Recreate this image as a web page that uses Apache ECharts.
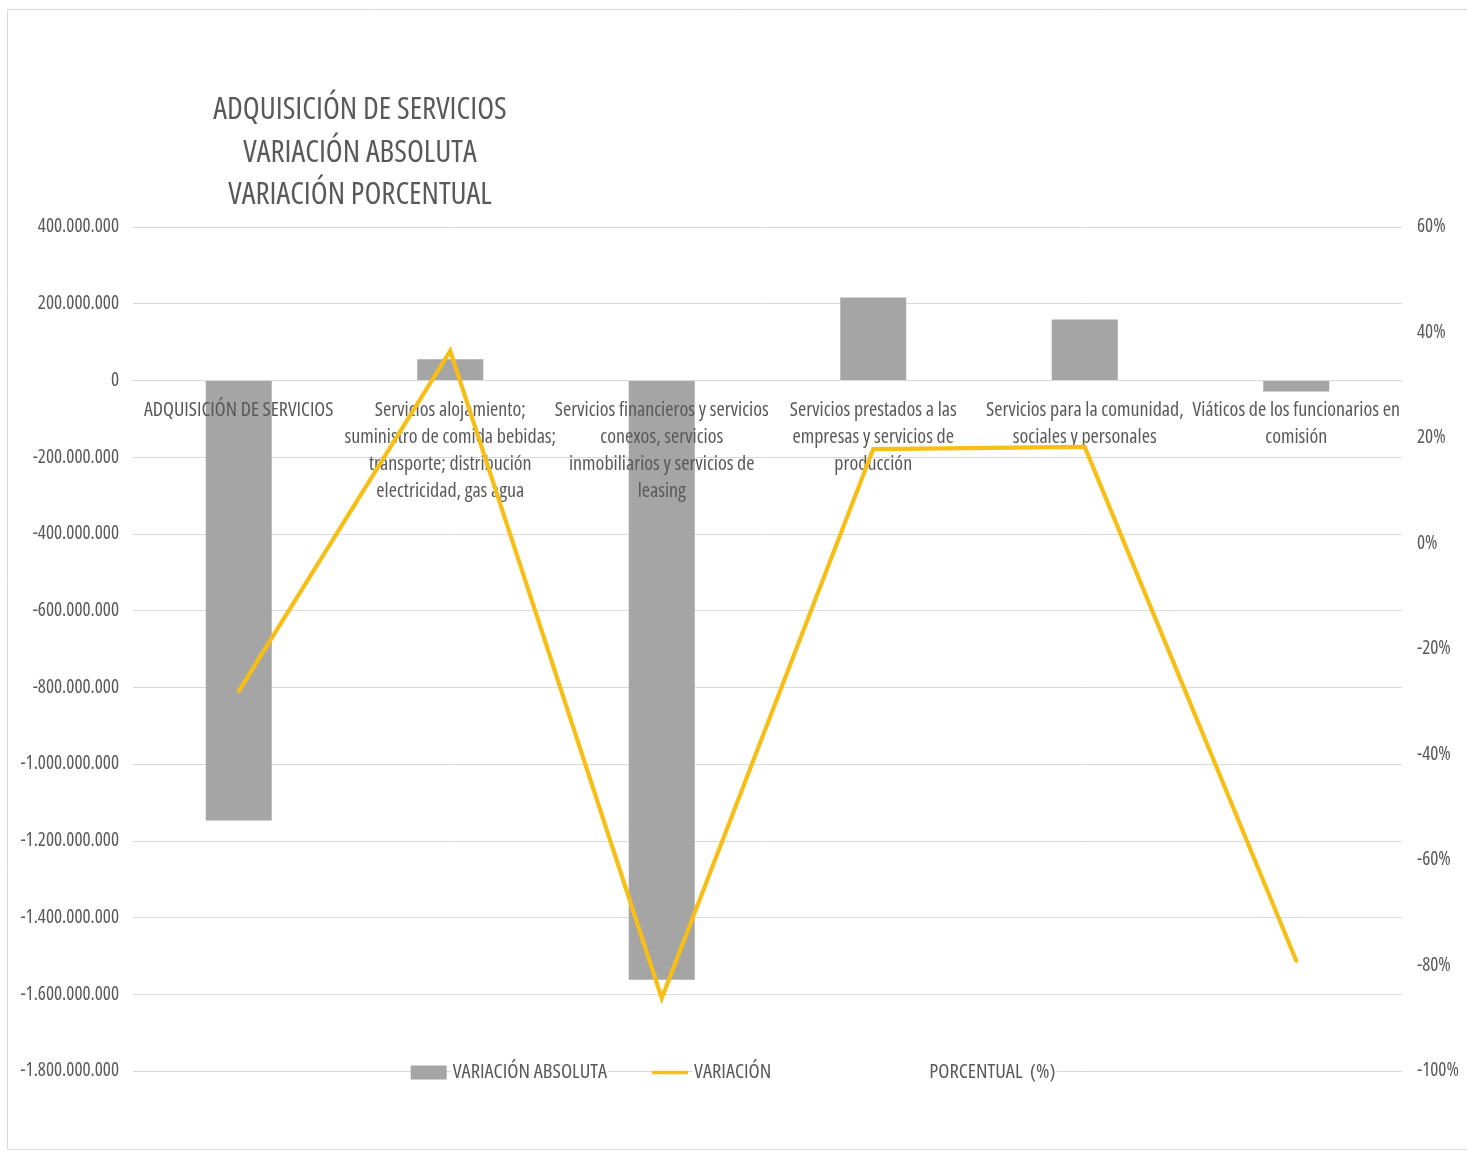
<!DOCTYPE html>
<html>
<head>
<meta charset="utf-8">
<script src="https://cdn.jsdelivr.net/npm/echarts@6/dist/echarts.min.js"></script>
<style>
html,body{margin:0;padding:0;background:#fff;}
#c{width:1467px;height:1153px;}
</style>
</head>
<body>
<div id="c"></div>
<script>
var categories = [
  "ADQUISICIÓN DE SERVICIOS",
  "Servicios alojamiento;\nsuministro de comida bebidas;\ntransporte; distribución\nelectricidad, gas agua",
  "Servicios financieros y servicios\nconexos, servicios\ninmobiliarios y servicios de\nleasing",
  "Servicios prestados a las\nempresas y servicios de\nproducción",
  "Servicios para la comunidad,\nsociales y personales",
  "Viáticos de los funcionarios en\ncomisión"
];
var variacionAbsoluta = [-1147000000, 55000000, -1562000000, 216000000, 159000000, -29000000];
var variacionPorcentual = [-0.28, 0.365, -0.862, 0.179, 0.183, -0.791];
var titleLines = ["ADQUISICIÓN DE SERVICIOS", "VARIACIÓN ABSOLUTA", "VARIACIÓN PORCENTUAL"];
var seriesNames = ["VARIACIÓN ABSOLUTA", "VARIACIÓN PORCENTUAL (%)"];

var FONT = "'Open Sans', sans-serif";
var STRETCH = 'condensed';   // font-stretch passed through the font shorthand
var TXT = '#595959';

var GRID_TOP = 227, GRID_BOTTOM = 82, CH = 1153;
var Y_MIN = -1800000000, Y_MAX = 400000000;
var gridH = CH - GRID_TOP - GRID_BOTTOM;
var zeroFromBottom = gridH * (0 - Y_MIN) / (Y_MAX - Y_MIN);

function fmtNum(v) {
  var s = Math.abs(v).toString().replace(/\B(?=(\d{3})+(?!\d))/g, '.');
  return (v < 0 ? '-' : '') + s;
}

var chart = echarts.init(document.getElementById('c'));
chart.setOption({
  animation: false,
  backgroundColor: '#fff',
  textStyle: { fontFamily: FONT, fontWeight: STRETCH },
  graphic: [{
    type: 'rect', silent: true, z: -10,
    shape: { x: 7.5, y: 9.5, width: 1475, height: 1140 },
    style: { fill: 'none', stroke: '#d9d9d9', lineWidth: 1 }
  }],
  title: {
    text: titleLines.join('\n'),
    left: 355, top: 84, textAlign: 'center',
    textStyle: { fontFamily: FONT, fontSize: 31, fontWeight: STRETCH, color: TXT, lineHeight: 42.5 }
  },
  legend: {
    top: 1055, left: 'center', z: 10,
    itemWidth: 36, itemHeight: 14, itemGap: 44,
    textStyle: {
      fontFamily: FONT, fontWeight: STRETCH, fontSize: 20.5, color: TXT,
      backgroundColor: '#fff', padding: [2, 1],
      rich: { g: { width: 158, fontFamily: FONT, fontWeight: STRETCH, fontSize: 20.5 } }
    },
    formatter: function (name) {
      if (name === seriesNames[1]) return 'VARIACIÓN{g|}PORCENTUAL  (%)';
      return name;
    },
    data: [
      { name: seriesNames[0], icon: 'rect' },
      { name: seriesNames[1], icon: 'path://M0,5 L36,5 L36,8.5 L0,8.5 Z' }
    ]
  },
  grid: { left: 133, right: 65, top: GRID_TOP, bottom: GRID_BOTTOM, containLabel: false, outerBoundsMode: 'none' },
  xAxis: {
    type: 'category', data: categories, z: 2,
    position: 'bottom', offset: -zeroFromBottom,
    axisLine: { show: true, onZero: false, lineStyle: { color: '#d9d9d9' } },
    axisTick: { show: false },
    axisLabel: {
      interval: 0, color: TXT, fontFamily: FONT, fontWeight: STRETCH, fontSize: 20, lineHeight: 27, margin: 16
    }
  },
  yAxis: [{
    type: 'value', min: Y_MIN, max: Y_MAX, interval: 200000000,
    axisLine: { show: false }, axisTick: { show: false },
    splitLine: { lineStyle: { color: '#d9d9d9', width: 1 } },
    axisLabel: { color: TXT, fontFamily: FONT, fontWeight: STRETCH, fontSize: 19, margin: 14, formatter: fmtNum }
  }, {
    type: 'value', min: -1, max: 0.6, interval: 0.2,
    axisLine: { show: false }, axisTick: { show: false },
    splitLine: { show: false },
    axisLabel: {
      color: TXT, fontFamily: FONT, fontWeight: STRETCH, fontSize: 19, margin: 15,
      formatter: function (v) { return Math.round(v * 100) + '%'; }
    }
  }],
  series: [{
    name: seriesNames[0], type: 'bar', data: variacionAbsoluta, yAxisIndex: 0,
    barWidth: 66, z: 1,
    itemStyle: { color: '#a5a5a5' }
  }, {
    name: seriesNames[1], type: 'line', data: variacionPorcentual, yAxisIndex: 1,
    z: 3, symbol: 'none',
    lineStyle: { color: '#f7bf16', width: 4.2, join: 'miter', cap: 'round' },
    itemStyle: { color: '#f7bf16' }
  }]
});
</script>
</body>
</html>
